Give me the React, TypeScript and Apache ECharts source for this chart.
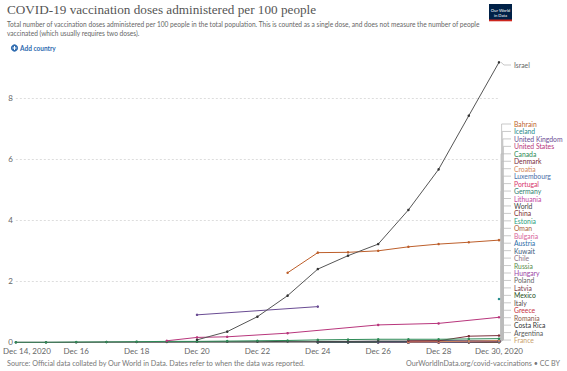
import React, { useEffect, useRef } from "react";
import * as echarts from "echarts";

const dates = [
  "Dec 14", "Dec 15", "Dec 16", "Dec 17", "Dec 18", "Dec 19", "Dec 20", "Dec 21", "Dec 22",
  "Dec 23", "Dec 24", "Dec 25", "Dec 26", "Dec 27", "Dec 28", "Dec 29", "Dec 30",
];
const yTicks = [0, 2, 4, 6, 8];

// pad with nulls before the first reported day (index into dates)
const from = (start: number, vals: (number | null)[]) => [
  ...Array(start).fill(null),
  ...vals,
];

const israel = from(6, [0.08, 0.35, 0.84, 1.53, 2.4, 2.84, 3.22, 4.34, 5.67, 7.43, 9.18]);
const bahrain = from(9, [2.28, 2.94, 2.95, 3.0, 3.13, 3.22, 3.28, 3.35]);
const iceland = from(16, [1.42]);
const unitedKingdom = from(6, [0.9, null, null, null, 1.17]);
const unitedStates = from(5, [0.05, 0.16, 0.18, null, 0.3, null, null, 0.57, null, 0.62, null, 0.82]);
const canada = from(0, [0.0, 0.0, 0.01, 0.01, 0.02, 0.03, 0.03, 0.04, 0.05, 0.06, 0.08, 0.09, 0.1, 0.1, 0.1, 0.11, 0.12]);
const denmark = from(13, [0.05, 0.05, 0.2, 0.22]);
const croatia = from(13, [0.01, 0.02, 0.04, 0.06]);
const luxembourg = from(14, [0.03, 0.05, 0.06]);
const portugal = from(13, [0.01, 0.02, 0.04, 0.05]);
const germany = from(13, [0.01, 0.03, 0.04, 0.05]);
const lithuania = from(13, [0.02, 0.03, 0.04, 0.05]);
const world = from(0, [0.0, 0.0, 0.0, 0.01, 0.01, 0.01, 0.02, 0.02, 0.02, 0.03, 0.03, 0.03, 0.04, 0.04, 0.05, 0.05, 0.06]);
const china = from(14, [0.04, 0.05, 0.05]);
const estonia = from(13, [0.01, 0.02, 0.03, 0.04]);
const oman = from(13, [0.02, 0.03, 0.04, 0.04]);
const bulgaria = from(13, [0.01, 0.02, 0.03, 0.04]);
const austria = from(13, [0.0, 0.01, 0.02, 0.03]);
const kuwait = from(10, [0.01, 0.01, 0.02, 0.02, 0.02, 0.03, 0.03]);
const chile = from(10, [0.01, 0.01, 0.01, 0.02, 0.02, 0.02, 0.03]);
const russia = from(12, [0.02, 0.02, 0.03, 0.03, 0.03]);
const hungary = from(12, [0.0, 0.01, 0.01, 0.02, 0.03]);
const poland = from(13, [0.0, 0.01, 0.02, 0.02]);
const latvia = from(14, [0.01, 0.01, 0.02]);
const mexico = from(10, [0.0, 0.0, 0.0, 0.01, 0.01, 0.01, 0.02]);
const italy = from(13, [0.0, 0.0, 0.01, 0.02]);
const greece = from(13, [0.0, 0.0, 0.01, 0.02]);
const romania = from(13, [0.0, 0.0, 0.01, 0.01]);
const costaRica = from(10, [0.0, 0.0, 0.0, 0.01, 0.01, 0.01, 0.01]);
const argentina = from(15, [0.0, 0.01]);
const france = from(13, [0.0, 0.0, 0.0, 0.0]);

const countryNames = [
  "Bahrain", "Iceland", "United Kingdom", "United States", "Canada", "Denmark", "Croatia",
  "Luxembourg", "Portugal", "Germany", "Lithuania", "World", "China", "Estonia", "Oman",
  "Bulgaria", "Austria", "Kuwait", "Chile", "Russia", "Hungary", "Poland", "Latvia", "Mexico",
  "Italy", "Greece", "Romania", "Costa Rica", "Argentina", "France",
];
const countryData: Record<string, (number | null)[]> = {
  Israel: israel, Bahrain: bahrain, Iceland: iceland, "United Kingdom": unitedKingdom,
  "United States": unitedStates, Canada: canada, Denmark: denmark, Croatia: croatia,
  Luxembourg: luxembourg, Portugal: portugal, Germany: germany, Lithuania: lithuania,
  World: world, China: china, Estonia: estonia, Oman: oman, Bulgaria: bulgaria,
  Austria: austria, Kuwait: kuwait, Chile: chile, Russia: russia, Hungary: hungary,
  Poland: poland, Latvia: latvia, Mexico: mexico, Italy: italy, Greece: greece,
  Romania: romania, "Costa Rica": costaRica, Argentina: argentina, France: france,
};

const colors: Record<string, string> = {
  Israel: "#555555", Bahrain: "#BD5F2B", Iceland: "#1F8A8A", "United Kingdom": "#6A4C93",
  "United States": "#B8367C", Canada: "#2E8B57", Denmark: "#7A2E3A", Croatia: "#D4875A",
  Luxembourg: "#4B6EA8", Portugal: "#D8356B", Germany: "#2F7F6F", Lithuania: "#C3479F",
  World: "#444444", China: "#7D2F2F", Estonia: "#2BA07E", Oman: "#A8623A", Bulgaria: "#D8649A",
  Austria: "#2D6DA8", Kuwait: "#3D5A7A", Chile: "#8E7386", Russia: "#5B8C4A", Hungary: "#9A46A6",
  Poland: "#666666", Latvia: "#7E3E4C", Mexico: "#1D4D22", Italy: "#5A4B4B", Greece: "#C8303F",
  Romania: "#8A5A4A", "Costa Rica": "#333333", Argentina: "#5A5A5A", France: "#C9A06B",
};

const FONT = "Lato, 'Noto Sans', sans-serif";

export default function App() {
  const ref = useRef<HTMLDivElement>(null);
  useEffect(() => {
    if (!ref.current) return;
    const chart = echarts.init(ref.current, null, { renderer: "svg" });
    const allNames = ["Israel", ...countryNames];
    const drawOrder = [...countryNames].reverse().concat(["Israel"]);
    const series: any[] = drawOrder.map((name) => ({
      name,
      type: "line",
      data: countryData[name],
      connectNulls: true,
      symbol: "circle",
      symbolSize: 2.5,
      showSymbol: true,
      color: colors[name],
      lineStyle: { width: 1, color: colors[name] },
      itemStyle: { color: name === "Israel" ? "#333" : colors[name] },
      emphasis: { disabled: true },
      silent: true,
    }));
    chart.setOption({
      animation: false,
      grid: { left: 13, right: 68, top: 61.7, bottom: 28.7 },
      xAxis: {
        type: "category",
        data: dates,
        boundaryGap: false,
        axisLine: { lineStyle: { color: "#999", width: 1 } },
        axisTick: { show: false },
        axisLabel: {
          interval: 1,
          color: "#666",
          fontSize: 8,
          fontFamily: FONT,
          margin: 5,
          formatter: (v: string, i: number) =>
            i === 0 ? "{first|" + v + ", 2020}" : i === dates.length - 1 ? v + ", 2020" : v,
          rich: {
            first: { width: 70, align: "right", color: "#666", fontSize: 8, fontFamily: FONT },
          },
        },
      },
      yAxis: {
        type: "value",
        min: 0,
        max: 9.2,
        interval: 2,
        axisLine: { show: false },
        axisTick: { show: false },
        axisLabel: {
          color: "#666",
          fontSize: 8,
          fontFamily: FONT,
          margin: 3,
          showMaxLabel: false,
          formatter: (v: number) => (yTicks.includes(v) ? String(v) : ""),
        },
        splitLine: {
          show: true,
          showMinLine: false,
          showMaxLine: false,
          lineStyle: { color: "#ddd", type: [2, 2], width: 1 },
        },
      },
      series,
    });

    // labels with leader lines at the right
    const lastIdx = dates.length - 1;
    const graphics: any[] = [];
    const leaderColor = "#bbbbbb";
    allNames.forEach((name, k) => {
      const d = countryData[name];
      let last = 0;
      for (let i = d.length - 1; i >= 0; i--) {
        if (d[i] != null) { last = d[i] as number; break; }
      }
      const p = chart.convertToPixel({ gridIndex: 0 } as any, [lastIdx, last]) as number[];
      const ex = p[0], ey = p[1];
      const ly = name === "Israel" ? 65 : 124 + (k - 1) * 7.45;
      const bx = name === "Israel" ? ex + 5 : ex + 2 + ((k % 5) * 0.6);
      graphics.push({
        type: "polyline",
        silent: true,
        shape: {
          points: name === "Israel"
            ? [[ex + 2, ey], [bx, ly], [511, ly]]
            : [[ex + 1, ey], [bx, ey - 2], [bx, ly], [511, ly]],
        },
        style: { stroke: leaderColor, lineWidth: 0.8, fill: null },
        z: 1,
      });
      graphics.push({
        type: "text",
        x: 514,
        y: ly,
        silent: true,
        style: {
          text: name,
          fill: name === "Israel" ? "#666" : colors[name],
          fontSize: 6.8,
          fontFamily: FONT,
          verticalAlign: "middle",
        },
      });
    });

    // header and footer
    graphics.push(
      {
        type: "text", left: 7, top: 3,
        style: {
          text: "COVID-19 vaccination doses administered per 100 people",
          fill: "#555", fontSize: 13.2, fontFamily: "'Liberation Serif', 'DejaVu Serif', serif",
        },
      },
      {
        type: "text", left: 7, top: 20.5,
        style: {
          text: "Total number of vaccination doses administered per 100 people in the total population. This is counted as a single dose, and does not measure the number of people",
          fill: "#666", fontSize: 6.6, fontFamily: FONT,
        },
      },
      {
        type: "text", left: 7, top: 29.8,
        style: { text: "vaccinated (which usually requires two doses).", fill: "#666", fontSize: 6.6, fontFamily: FONT },
      },
      { type: "circle", shape: { cx: 14.5, cy: 48, r: 3.6 }, style: { fill: "#2F6CB0" } },
      { type: "rect", shape: { x: 12.5, y: 47.5, width: 4, height: 1 }, style: { fill: "#fff" } },
      { type: "rect", shape: { x: 14, y: 46, width: 1, height: 4 }, style: { fill: "#fff" } },
      {
        type: "text", left: 20, top: 44.5,
        style: { text: "Add country", fill: "#2F6CB0", fontSize: 6.5, fontWeight: "bold", fontFamily: FONT },
      },
      { type: "rect", shape: { x: 489, y: 4, width: 23, height: 17 }, style: { fill: "#002147" } },
      { type: "rect", shape: { x: 489, y: 19.5, width: 23, height: 1.8 }, style: { fill: "#CE261E" } },
      {
        type: "text", x: 500.5, y: 10,
        style: { text: "Our World", fill: "#fff", fontSize: 4.2, fontFamily: FONT, align: "center", verticalAlign: "middle" },
      },
      {
        type: "text", x: 500.5, y: 15,
        style: { text: "in Data", fill: "#fff", fontSize: 4.2, fontFamily: FONT, align: "center", verticalAlign: "middle" },
      },
      {
        type: "text", left: 7, top: 360,
        style: {
          text: "Source: Official data collated by Our World in Data. Dates refer to when the data was reported.",
          fill: "#777", fontSize: 7.2, fontFamily: FONT,
        },
      },
      {
        type: "text", right: 7, top: 360,
        style: { text: "OurWorldInData.org/covid-vaccinations • CC BY", fill: "#777", fontSize: 7.2, fontFamily: FONT },
      }
    );
    chart.setOption({ graphic: graphics });
    return () => chart.dispose();
  }, []);
  return <div ref={ref} style={{ width: 567, height: 371, position: "absolute", left: 0, top: 0 }} />;
}
